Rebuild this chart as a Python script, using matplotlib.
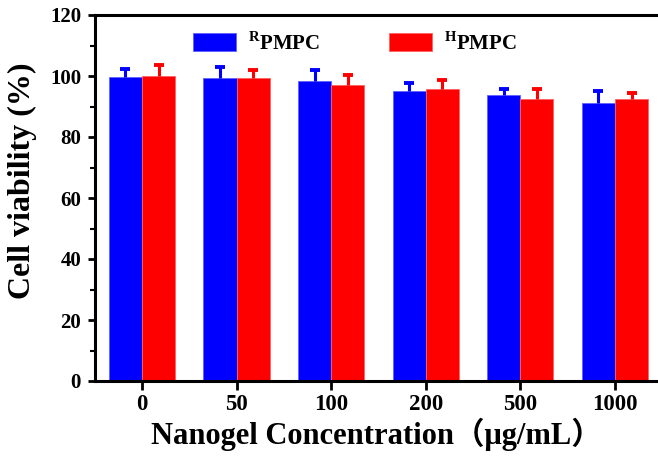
import matplotlib
matplotlib.use("Agg")
import matplotlib.pyplot as plt
from matplotlib.ticker import MultipleLocator
import numpy as np

concentrations = ["0", "50", "100", "200", "500", "1000"]
rpmpc_mean = [99.6, 99.2, 98.2, 95.2, 93.8, 91.2]
rpmpc_err = [2.6, 3.6, 3.9, 2.4, 1.9, 3.8]
hpmpc_mean = [99.9, 99.3, 97.2, 95.8, 92.3, 92.4]
hpmpc_err = [3.7, 2.6, 3.0, 2.8, 3.3, 2.0]

plt.rcParams['font.family'] = ['Liberation Serif', 'Noto Sans CJK SC', 'DejaVu Sans']
plt.rcParams['font.weight'] = 'bold'
plt.rcParams['mathtext.fontset'] = 'custom'
plt.rcParams['mathtext.rm'] = 'Liberation Serif:bold'

fig = plt.figure(figsize=(6.58, 4.58), dpi=100)
ax = fig.add_axes([95 / 658, 77 / 458, 1 - 95 / 658, 366 / 458])

x = np.arange(len(concentrations))
w = 0.35
zeros = np.zeros(len(x))


def bars_with_err(xs, mean, err, color, edge, label):
    ax.bar(xs, mean, w, color=color, edgecolor=edge, linewidth=0.6, label=label, zorder=2)
    # only the upper half of the error bar is shown
    _, caps, _ = ax.errorbar(xs, mean, yerr=[zeros, err], fmt='none', ecolor=color,
                             elinewidth=2.2, capsize=3.5, capthick=2.8, zorder=3)
    caps[0].set_visible(False)


bars_with_err(x - w / 2, rpmpc_mean, rpmpc_err, '#0000FF', '#6060ff', r"$^{\mathregular{R}}$PMPC")
bars_with_err(x + w / 2, hpmpc_mean, hpmpc_err, '#FF0000', '#ff6060', r"$^{\mathregular{H}}$PMPC")

ax.set_xlim(-0.497, 5.455)
ax.set_ylim(0, 120)
ax.set_xticks(x)
ax.set_xticklabels(concentrations)
ax.yaxis.set_major_locator(MultipleLocator(20))
ax.yaxis.set_minor_locator(MultipleLocator(10))

for s in ['left', 'bottom', 'top']:
    ax.spines[s].set_linewidth(2.2)
ax.spines['right'].set_visible(False)

ax.tick_params(axis='y', which='major', direction='out', length=5, width=2,
               labelsize=15, pad=5)
ax.tick_params(axis='y', which='minor', direction='out', length=3.5, width=1.5)
ax.tick_params(axis='x', which='major', direction='out', length=6.5, width=2,
               labelsize=16.5, pad=3)

ax.set_ylabel("Cell viability (%)", fontsize=23, fontweight='bold')
ax.yaxis.set_label_coords(-0.103, 0.546)
ax.set_xlabel("Nanogel Concentration（μg/mL）", fontsize=22, fontweight='bold', labelpad=2)

ax.legend(loc='upper left', bbox_to_anchor=(0.14, 1.005), ncol=2, frameon=False,
          fontsize=15, handlelength=2.07, handleheight=0.95, columnspacing=3.3,
          handletextpad=0.58)

fig.savefig("out.png", dpi=100)
